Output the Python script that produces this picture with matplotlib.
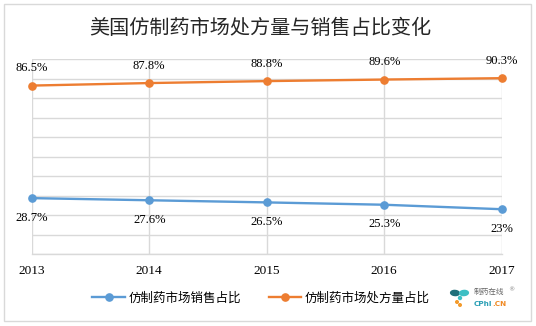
import matplotlib
matplotlib.use("Agg")
import matplotlib.pyplot as plt
from matplotlib.patches import Rectangle, Ellipse

plt.rcParams['font.family'] = ['Noto Sans CJK SC', 'DejaVu Sans']

years = ["2013", "2014", "2015", "2016", "2017"]
sales_share = [28.7, 27.6, 26.5, 25.3, 23]
rx_share = [86.5, 87.8, 88.8, 89.6, 90.3]
sales_labels = ["28.7%", "27.6%", "26.5%", "25.3%", "23%"]
rx_labels = ["86.5%", "87.8%", "88.8%", "89.6%", "90.3%"]

title = "美国仿制药市场处方量与销售占比变化"
sales_name = "仿制药市场销售占比"
rx_name = "仿制药市场处方量占比"

BLUE = "#5B9BD5"
ORANGE = "#ED7D31"
GRID = "#D9D9D9"
W, H = 536, 326

fig = plt.figure(figsize=(W / 100, H / 100), dpi=100)
fig.patch.set_facecolor("white")


def fx(px):
    return px / W


def fy(py):
    return 1 - py / H


# outer chart frame
fig.patches.append(Rectangle((fx(3.5), fy(320.5)), fx(527), 317 / H,
                             transform=fig.transFigure, fill=False,
                             edgecolor=GRID, linewidth=1.0))

ax = fig.add_axes([fx(31.7), fy(254), fx(501.7 - 31.7), (254 - 59.3) / H])
x = list(range(len(years)))

ax.set_ylim(0, 100)
ax.set_xlim(0, len(years) - 1)
ax.set_yticks(range(0, 101, 10))
ax.set_yticklabels([])
ax.tick_params(axis="y", length=0)
ax.set_xticks(x)
ax.set_xticklabels(years, fontfamily="Liberation Serif", fontsize=9.5, color="#000000")
ax.tick_params(axis="x", length=0, pad=8)
ax.grid(True, color=GRID, linewidth=1.0)
ax.set_axisbelow(True)
for side in ["top", "right", "left"]:
    ax.spines[side].set_visible(False)
ax.spines["bottom"].set_color(GRID)
ax.spines["bottom"].set_linewidth(1.0)

l1, = ax.plot(x, sales_share, color=BLUE, linewidth=1.7, marker="o",
              markersize=5.2, clip_on=False, zorder=3)
l2, = ax.plot(x, rx_share, color=ORANGE, linewidth=1.7, marker="o",
              markersize=5.2, clip_on=False, zorder=3)

for xi, v, s in zip(x, rx_share, rx_labels):
    ax.annotate(s, (xi, v), xytext=(0, 12.5), textcoords="offset points",
                ha="center", va="center", fontfamily="Liberation Serif",
                fontsize=9, color="#000000", annotation_clip=False)
for xi, v, s in zip(x, sales_share, sales_labels):
    ax.annotate(s, (xi, v), xytext=(0, -14), textcoords="offset points",
                ha="center", va="center", fontfamily="Liberation Serif",
                fontsize=9, color="#000000", annotation_clip=False)

fig.text(fx(260), fy(28), title, ha="center", va="center",
         fontsize=14.5, color="#262626")

# legend
fig.legend([l1, l2], [sales_name, rx_name], loc="center",
           bbox_to_anchor=(fx(261), fy(298)), ncol=2, frameon=False,
           fontsize=9, handlelength=2.6, columnspacing=2.2, handletextpad=0.3)

# small site logo in the lower right corner
logo_parts = [
    Ellipse((fx(455), fy(293)), fx(9), 5 / H, angle=-35, color="#1F6F7A"),
    Ellipse((fx(464), fy(293)), fx(9), 5 / H, angle=35, color="#3DBFC4"),
    Ellipse((fx(460), fy(298)), fx(3), 3 / H, color="#3DBFC4"),
    Ellipse((fx(457), fy(302)), fx(2.6), 2.6 / H, color="#F39A2B"),
    Ellipse((fx(460), fy(305)), fx(2.6), 2.6 / H, color="#F39A2B"),
]
for p in logo_parts:
    p.set_transform(fig.transFigure)
    fig.patches.append(p)
fig.text(fx(474), fy(292), "制药在线", fontsize=5.5, color="#666666",
         ha="left", va="center")
fig.text(fx(508), fy(290), "®", fontsize=4.5, color="#888888",
         ha="left", va="center", fontfamily="DejaVu Sans")
fig.text(fx(474), fy(304), "CPhI", fontsize=5.2, color="#2A9FB5",
         ha="left", va="center", fontweight="bold", fontfamily="DejaVu Sans")
fig.text(fx(492), fy(304), ".CN", fontsize=5.2, color="#F08A24",
         ha="left", va="center", fontweight="bold", fontfamily="DejaVu Sans")

fig.savefig("out.png", dpi=100, facecolor="white")
